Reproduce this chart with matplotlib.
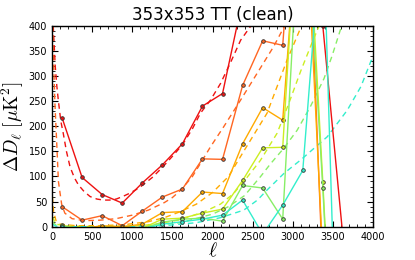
import numpy as np
import matplotlib
matplotlib.use("Agg")
import matplotlib.pyplot as plt
from matplotlib.ticker import MultipleLocator

plt.rcParams['mathtext.fontset'] = 'cm'

nan = np.nan
# binned multipole centres
ell = [125, 375, 625, 875, 1125, 1375, 1625, 1875, 2125, 2375, 2625, 2875, 3125, 3375, 3625]

# measured Delta D_ell per mask (solid lines with markers)
red_data     = [217, 98, 64, 47, 87, 123, 165, 240, 265, 452, 800, 1200, 1500, 399, -20]
orange1_data = [40, 13, 22, 2, 31, 59, 75, 135, 134, 281, 370, 361, 900, -100, nan]
orange2_data = [1, -4, 2, 0, 5, 28, 30, 69, 66, 165, 237, 212, 750, -60, nan]
yellow_data  = [3, -5, -6, -8, -3, 15, 17, 27, 35, 92, 157, 158, 810, 88, -700]
green_data   = [2, -6, -8, -10, -4, 9, 15, 17, 11, 82, 77, 15, 740, 77, -700]
cyan_data    = [0, -8, -10, -12, -5, 5, 10, 15, 23, 53, -15, 43, 112, 620, -700]

# model curves (dashed)
red_model_ell = [15, 40, 60, 80, 110, 140, 180, 225, 280, 330, 400, 475, 560, 640, 720, 800, 880,
                 960, 1040, 1100, 1250, 1375, 1500, 1625, 1750, 1850, 1975, 2100, 2220, 2350, 2480]
red_model = [400, 320, 280, 250, 210, 186, 150, 119, 97, 83, 70, 60, 55, 53, 53, 55, 60,
             66, 73, 79, 98, 118, 140, 163, 195, 226, 252, 285, 325, 371, 400]

orange1_model_ell = [8, 20, 35, 55, 80, 120, 160, 250, 400, 600, 800, 1000, 1200, 1400, 1500,
                     1600, 1750, 1850, 1975, 2140, 2350, 2555, 2760, 2900]
orange1_model = [400, 330, 250, 180, 90, 45, 27, 16, 12, 13, 16, 23, 33, 48, 58,
                 72, 100, 126, 159, 199, 252, 305, 358, 400]

orange2_model_ell = [5, 20, 50, 100, 300, 600, 900, 1200, 1400, 1600, 1800, 2000, 2200,
                     2400, 2680, 2930, 3110]
orange2_model = [60, 30, 12, 5, 2, 2, 4, 10, 18, 30, 45, 68, 100, 153, 226, 332, 400]

yellow_model_ell = [5, 50, 200, 600, 1000, 1300, 1600, 1900, 2100, 2263, 2430, 2597, 2805,
                    2950, 3100, 3250, 3330]
yellow_model = [20, 5, 1, 0, 1, 5, 14, 30, 45, 66, 98, 132, 186, 245, 310, 370, 400]

green_model_ell = [5, 50, 200, 600, 1000, 1300, 1600, 2000, 2200, 2400, 2600, 2722, 2888,
                   3055, 3220, 3390, 3490, 3600]
green_model = [10, 3, 0, 0, 1, 3, 8, 25, 40, 62, 100, 125, 156, 192, 239, 295, 340, 395]

cyan_model_ell = [5, 50, 200, 600, 1000, 1400, 1800, 2100, 2390, 2560, 2680, 2890, 3100,
                  3430, 3680, 3850, 4000]
cyan_model = [5, 1, 0, 0, 0, 2, 8, 18, 33, 53, 73, 106, 133, 179, 232, 279, 340]

colors = ["#ee1111", "#ff6622", "#ffaa00", "#ccee22", "#88ee66", "#33eecc"]
datas = [red_data, orange1_data, orange2_data, yellow_data, green_data, cyan_data]
models = [(red_model_ell, red_model), (orange1_model_ell, orange1_model),
          (orange2_model_ell, orange2_model), (yellow_model_ell, yellow_model),
          (green_model_ell, green_model), (cyan_model_ell, cyan_model)]

fig = plt.figure(figsize=(4.15, 2.6), dpi=100)
ax = fig.add_axes([52/415, 1-226.7/260, (373-52)/415, (226.7-25.7)/260])

for c, (mx, my) in zip(colors, models):
    ax.plot(mx, my, ls=(0, (4, 3)), color=c, lw=1.0)
for c, d in zip(colors, datas):
    ax.plot(ell, d, '-', color=c, lw=1.0, marker='o', ms=2.6,
            mfc=c, mec='#333333', mew=0.6)

ax.set_xlim(0, 4000)
ax.set_ylim(0, 400)
ax.xaxis.set_major_locator(MultipleLocator(500))
ax.xaxis.set_minor_locator(MultipleLocator(100))
ax.yaxis.set_major_locator(MultipleLocator(50))
ax.yaxis.set_minor_locator(MultipleLocator(10))
ax.tick_params(which='both', direction='in', top=True, right=True, labelsize=7)
ax.tick_params(which='major', length=4, width=0.8)
ax.tick_params(which='minor', length=2, width=0.6)
for s in ax.spines.values():
    s.set_linewidth(1.0)

ax.set_title("353x353 TT (clean)", fontsize=12, pad=4)
ax.set_xlabel(r"$\ell$", fontsize=14, labelpad=0)
ax.set_ylabel(r"$\Delta D_\ell\ [\mu{\rm K}^2]$", fontsize=14, labelpad=2)

fig.savefig("out.png", dpi=100)
